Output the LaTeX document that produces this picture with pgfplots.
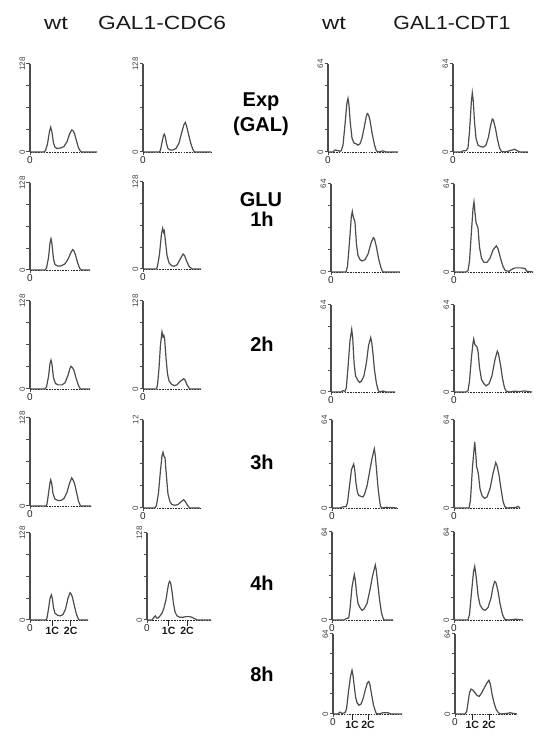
\documentclass[border=0pt]{standalone}
\usepackage{fontspec}
\setmainfont{Liberation Sans}
\usepackage{graphicx}
\usepackage{pgfplots}
\pgfplotsset{compat=1.18}
\pgfplotsset{
  facs/.style={
    scale only axis, clip=false, xmin=0, ymin=0,
    axis x line=bottom, axis y line=left, separate axis lines,
    axis line style={-},
    x axis line style={black!85, line width=0.9pt, dash pattern=on 1.6pt off 1.1pt},
    y axis line style={black!70, line width=2.2pt},
    tick align=outside, major tick length=3.5pt,
    every tick/.style={black!70, line width=1pt},
    xtick={0}, xticklabels={0},
    xticklabel style={font=\fontsize{10}{10}\selectfont, text=black!85, inner sep=1pt},
    yticklabel style={rotate=90, anchor=south, font=\fontsize{8}{8}\selectfont, text=black!75, inner sep=1pt},
  },
  hist/.style={line width=1.2pt, black!70, mark=none},
  y128/.style={ymax=128, ytick={0,32,64,96,128}, yticklabels={0,,,,128}},
  y12/.style={ymax=128, ytick={0,32,64,96,128}, yticklabels={0,,,,12}},
  y64/.style={ymax=64, ytick={0,16,32,48,64}, yticklabels={0,,,,64}},
  cc/.style 2 args={extra x ticks={#1,#2}, extra x tick labels={1C,2C},
    extra x tick style={major tick length=6pt, every tick/.style={black!85, line width=0.8pt},
      xticklabel style={font=\bfseries\fontsize{10.5}{11}\selectfont, text=black!90, inner sep=1pt}}},
}
\newcommand{\panel}[6][]{%
\begin{axis}[facs, at={(#2pt,#3pt)}, anchor=south west, height=#4pt, width=#5pt, xmax=#5, #1]
\addplot[hist] coordinates {#6};
\end{axis}}
\begin{document}
\begin{tikzpicture}
\useasboundingbox (0pt,0pt) rectangle (553pt,739pt);
% headers
\begin{scope}[every node/.style={font=\fontsize{19}{22}\selectfont, text=black!90, anchor=base, inner sep=0pt}]
\node at (56pt,709pt) {\scalebox{1.25}[1]{wt}};
\node at (162pt,709pt) {\scalebox{1.2}[1]{GAL1-CDC6}};
\node at (334pt,709pt) {\scalebox{1.25}[1]{wt}};
\node at (452pt,709pt) {\scalebox{1.12}[1]{GAL1-CDT1}};
\end{scope}
\begin{scope}[every node/.style={font=\bfseries\fontsize{20}{22}\selectfont, text=black, anchor=base, inner sep=0pt}]
\node at (261pt,632pt) {Exp};
\node at (261pt,607pt) {(GAL)};
\node at (261pt,532pt) {GLU};
\node at (262pt,512pt) {1h};
\node at (262pt,387pt) {2h};
\node at (262pt,269pt) {3h};
\node at (262pt,148pt) {4h};
\node at (262pt,57pt) {8h};
\end{scope}
% column 1: wt (CDC6)
\panel[y128]{30}{587}{88}{67}{(0,0)(14,0)(15.5,2)(17.5,12)(19.5,30)(20.7,36)(21.8,30)(23.5,13)(25,7)(27,5)(31,6)(34,8)(37,15)(39.5,26)(41.7,32)(43,31)(44.5,27)(46.5,16)(48.5,6)(50.5,1)(51.5,0)(67,0)}
\panel[y128]{30}{469}{87}{60}{(0,0)(15,0)(16.5,3)(18.5,18)(20,40)(21,46)(22,38)(23.5,16)(25,8)(27.5,6)(31,6)(35,9)(38,16)(41,26)(42.7,30)(44,28)(45.5,22)(47.5,11)(49.5,3)(51,0)(60,0)}
\panel[y128]{30}{350}{88}{60}{(0,0)(15,0)(16.5,3)(18.5,18)(20,37)(21,42)(22,36)(23.5,16)(25.5,8)(28,6)(32,6)(35,9)(38,20)(40,30)(41,33)(42.5,31)(44,27)(46,16)(48.5,5)(50.5,0)(60,0)}
\panel[y128]{30}{233}{88}{61}{(0,0)(16,0)(17,3)(18.5,18)(20,34)(20.7,38)(21.7,33)(23,18)(25,10)(28,8)(31,8)(34,11)(37,20)(39.5,33)(41.7,41)(43,38)(44.5,33)(46.5,20)(48.5,7)(50.5,0)(61,0)}
\panel[y128,cc={22.3}{40.7}]{30}{119}{87}{58}{(0,0)(16,0)(17,3)(18.5,16)(20,32)(21.3,37)(22.3,32)(23.5,18)(25,10)(27.5,7)(30,6)(33,8)(35.5,16)(38,32)(40,40)(41.3,38)(42.5,33)(44.5,20)(46.5,8)(48.5,1)(49.5,0)(58,0)}
% column 2: GAL1-CDC6
\panel[y128]{143}{587}{88}{68}{(0,0)(16.5,0)(17.5,3)(19,14)(20.5,24)(21.3,26)(22.3,22)(23.5,12)(25,5)(27,3)(30,3)(33,5)(36,13)(39,30)(41,40)(42.3,43)(43.5,38)(45.5,26)(47.5,14)(49.5,5)(51.3,0)(68,0)}
\panel[y128]{143}{470}{87}{58}{(0,0)(13.5,0)(14.5,4)(16.5,22)(18.5,52)(19.7,60)(20.6,54)(21.3,56)(22.5,40)(24,20)(26,9)(28.5,5)(31,4)(34,6)(37,14)(40,22)(41.5,20)(43.5,12)(46,4)(49,0)(58,0)}
\panel[y128]{143}{350}{88}{58}{(0,0)(13.5,0)(14.5,6)(16,30)(17.5,65)(19,83)(20,76)(20.8,78)(21.7,72)(23,45)(24.5,22)(26,12)(28.5,7)(31,5)(34,6)(37,11)(39,13)(40.7,15)(42,13)(44,6)(46.7,0)(58,0)}
\panel[y12]{143}{231}{88}{57}{(0,0)(12,0)(13.5,4)(15.5,22)(17.5,55)(19,76)(20,81)(21,75)(22,73)(23.5,45)(25,20)(27,9)(29,5)(32,4)(35,5)(38,9)(40.7,12)(42.5,9)(44.5,4)(46.7,0)(57,0)}
\panel[y128,cc={21.7}{40}]{147}{119}{87}{64}{(0,0)(5,0)(7,4)(8.3,6)(9.5,3)(11,3)(13,6)(15,10)(17,18)(19,30)(20.5,44)(21.7,54)(22.7,57)(23.7,54)(25,42)(26.5,24)(28,12)(30,6)(33,4)(36,4)(39,5)(42,5)(45,4)(47.5,2)(50,0)(64,0)}
% column 3: wt (CDT1)
\panel[y64]{328}{587}{88}{70}{(0,0)(5,0)(7,1.5)(10,1)(12,0.5)(13.3,1)(15,5)(17,20)(18.8,35)(20,39)(21,34)(22.2,22)(24,10)(26,6.5)(28,6)(30,5)(32,6)(34,10)(36.5,19)(38.3,26)(39.3,28)(40.5,27)(42,23)(44,14)(46.5,5)(48.3,1)(50,0)(55,0.8)(58,0)(70,0)}
\panel[y64]{331}{467}{88}{69}{(0,0)(15,0)(16.5,4)(18.5,22)(20.3,40)(21.3,44)(22.3,40)(23.3,38)(24,36)(25.5,20)(27,12)(29,9)(31,8)(34,9)(37,13)(40,21)(42.3,25)(43.5,24)(45.5,18)(47.5,10)(50,3)(51.7,0)(69,0)}
\panel[y64]{331}{347}{87}{64}{(0,0)(10,0)(12,1)(14,0.5)(15.3,3)(17,18)(19,38)(20.7,46)(21.7,40)(23,22)(24.5,12)(26.5,9)(28.5,7)(30.5,8)(33,12)(35.5,22)(37.5,34)(39.7,40)(40.8,36)(42,28)(43.5,16)(45.5,6)(47.3,1)(49,0)(52,0.7)(55,0)(64,0)}
\panel[y64]{332}{231}{88}{65}{(0,0)(8,0)(11,0.8)(14,1)(15.5,4)(17.5,16)(19.5,28)(21.7,32)(22.7,28)(24,18)(25.5,11)(27,9)(29,8.5)(31,8)(32.5,10)(35,16)(37.5,26)(40,36)(42.3,43)(43.3,38)(44.5,28)(46,15)(47.5,6)(48.5,1)(50,0)(54,0.5)(65,0)}
\panel[y64]{332}{119}{88}{61}{(0,0)(12,0)(14,1)(16.7,1.5)(18,8)(20,24)(22.3,33)(23.3,29)(24.5,20)(26,12)(28,9)(30,7)(32,8)(35,12)(38,22)(40.5,32)(43.3,40)(44.3,36)(45.5,28)(47.5,15)(49.5,5)(51.7,0)(61,0)}
\panel[y64,cc={19}{35}]{333}{25}{80}{69}{(0,0)(5,0)(7,1.5)(9,0.5)(12,1)(13.5,4)(15.5,18)(17.5,30)(19,35)(20,31)(21,24)(22.5,14)(24,9)(26,7)(28,8)(30,12)(32.5,20)(34.5,25)(35.7,26)(36.8,24)(38.5,16)(40.5,7)(42.5,2)(43.3,0.5)(46,0)(50,1)(55,1)(58,0)(69,0)}
% column 4: GAL1-CDT1
\panel[y64]{453}{587}{88}{75}{(0,0)(8,0)(10,0.8)(13,1)(15,3)(16.5,15)(18.3,36)(19.3,43)(20.3,37)(21.5,22)(23,10)(25,5)(27.5,4)(30,3.5)(33,5)(35.5,11)(37.5,19)(39.3,24)(40.5,23)(42.5,17)(44.5,9)(46.5,3)(48.3,0.5)(52,0)(57,1)(61.7,2)(64,1)(67,0)(75,0)}
\panel[y64]{454}{467}{88}{79}{(0,0)(12,0)(14,1)(15.5,8)(17.5,30)(19,46)(20,51)(21,43)(22,36)(23,34)(24,32)(25.5,18)(27.5,10)(30,7)(33,7)(36,10)(39,16)(42.3,19)(44,17)(46.5,10)(49,4)(51.3,1)(55,0.5)(58,2)(61,3)(67,3)(71,2.5)(73,0.5)(79,0)}
\panel[y64]{454}{347}{87}{78}{(0,0)(12,0)(14,1)(15.5,8)(17.5,26)(19,36)(19.7,39)(20.8,35)(22,34)(23,33)(24,30)(25.5,18)(27.5,9)(30,6)(32,4.5)(35,6)(38,12)(41,24)(43.3,30)(44.5,28)(46.5,20)(48.5,10)(50.5,3)(52.3,0.5)(56,0)(60,0.6)(66,0.3)(70,0.8)(78,0)}
\panel[y64]{454}{231}{88}{66}{(0,0)(15,0)(16.5,6)(18.5,30)(20.7,48)(21.7,40)(22.6,30)(23.5,28)(24.5,24)(26,14)(28,9)(30.5,7)(33,8)(36,14)(39,25)(41.7,33)(43,31)(45,24)(47,14)(49,5)(50.7,1)(53,0)(62,0.4)(64,1.2)(66,0)}
\panel[y64]{454}{119}{88}{69}{(0,0)(14,0)(15.5,4)(17.5,20)(19.5,35)(20.7,39)(21.7,34)(22.7,28)(24,18)(26,11)(28.5,8)(31,7)(34,9)(37,16)(39,24)(40.7,28)(42,27)(44,21)(46,12)(48.5,4)(50.7,0.5)(55,0)(62,0.6)(65,0.3)(69,0)}
\panel[y64,cc={17.3}{34}]{455}{25}{80}{62}{(0,0)(10,0)(11.7,2)(13,9)(14.5,17)(16,20)(18,19)(20,17)(22,15)(24,14)(26,16)(28,19)(30,22)(32,25)(34,27)(35.3,24)(37,16)(39,9)(41,4)(43.3,1)(46,0)(52,0.5)(55,1)(58,0.5)(62,0)}
\end{tikzpicture}
\end{document}
